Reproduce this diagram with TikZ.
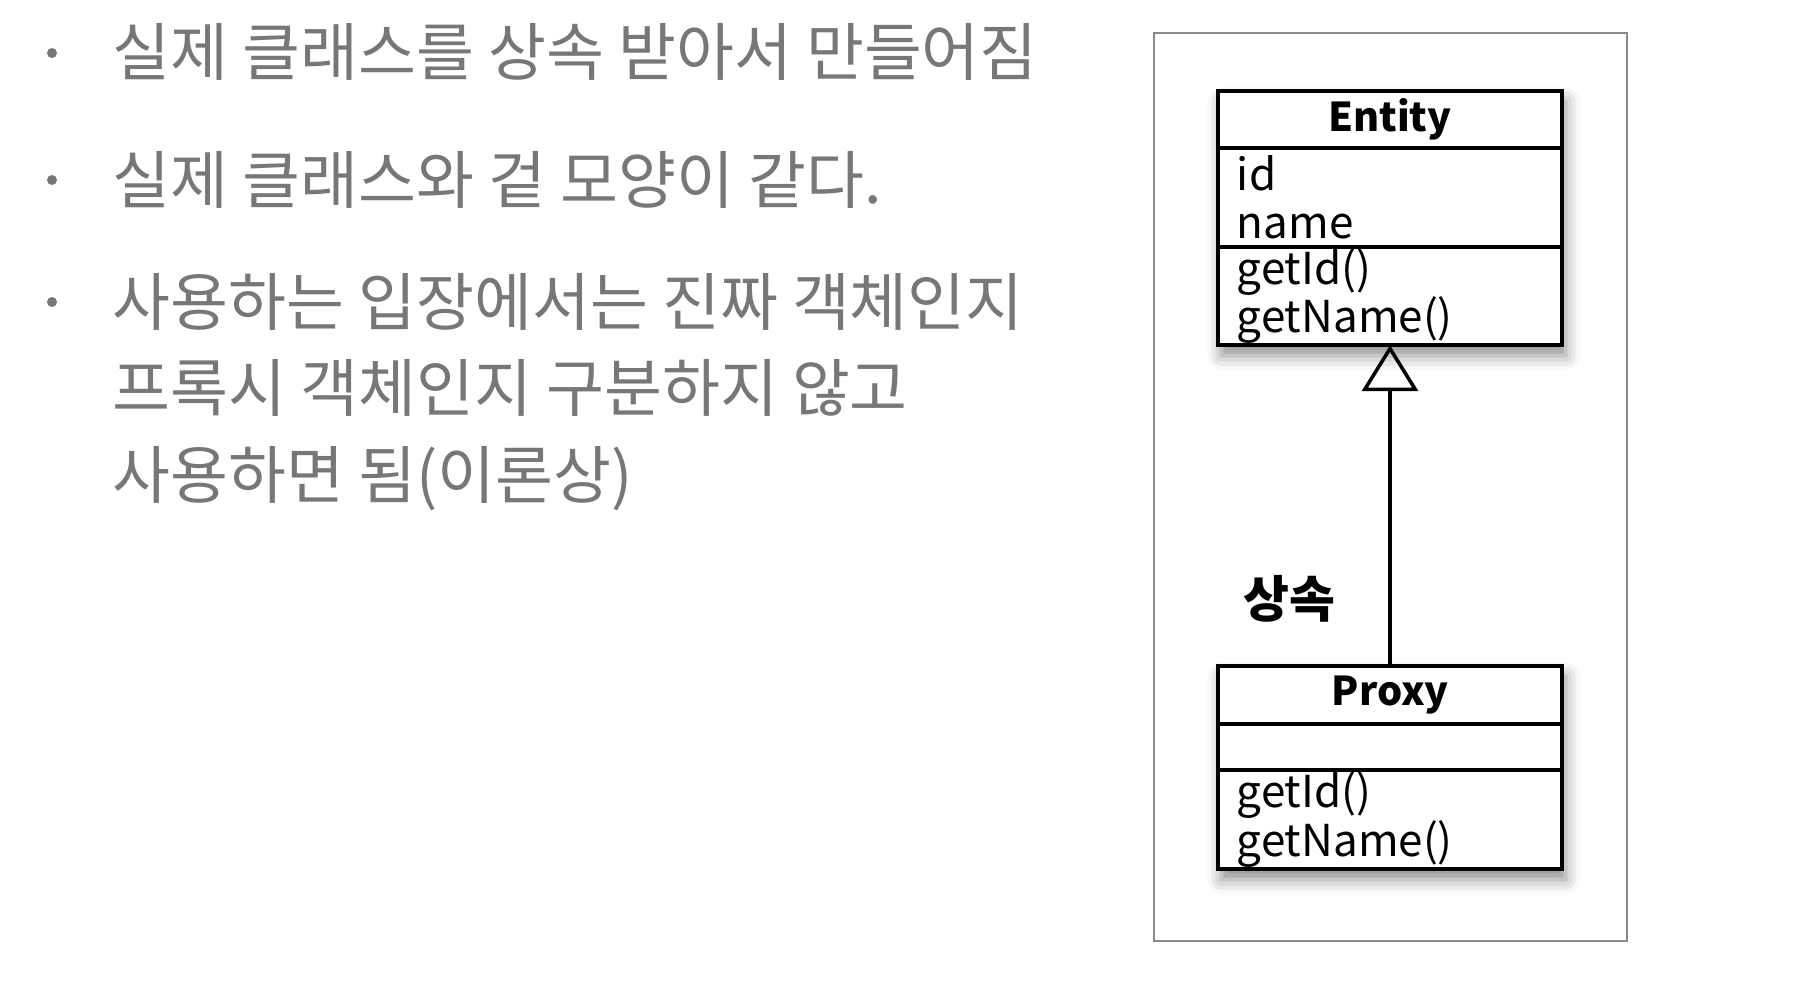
\documentclass[tikz,border=0pt]{standalone}
\usepackage{fontspec}
\setmainfont{Noto Sans CJK KR}
\newfontfamily\krbody{Noto Sans CJK KR}
\definecolor{textgray}{HTML}{777777}
\definecolor{framegray}{HTML}{8A8A8A}
\usetikzlibrary{arrows.meta,positioning,fit,backgrounds,shadows.blur}
\tikzset{part/.style={draw=black,line width=1pt,fill=white,minimum width=3.44cm,text width=3.06cm,inner xsep=0.19cm,inner ysep=0pt,outer sep=0pt,align=left,font=\fontsize{12.5}{13.7}\selectfont},head/.style={part,align=center,font=\fontsize{11.3}{13.7}\selectfont\bfseries},inh/.style={-{Triangle[open,length=0.46cm,width=0.56cm]},line width=1pt},item/.style={anchor=base west,align=left,text=textgray,inner sep=0pt,font=\krbody\fontsize{17.9}{24.5}\selectfont}}

\begin{document}
\begin{tikzpicture}[x=0.01cm,y=-0.01cm,
dot/.style={circle,fill=textgray,inner sep=0pt,minimum size=0.1cm},
frm/.style={draw=framegray,line width=0.6pt,minimum width=4.73cm,minimum height=9.08cm,inner sep=0pt},
shd/.style={fill=white,inner sep=0pt,blur shadow={shadow xshift=1pt,shadow yshift=-3pt,shadow blur radius=4pt,shadow opacity=45}}]
\useasboundingbox (0,0) rectangle (1800,988);
\node[dot] (b1) at (52,53) {};
\node[item] (t1) at (112,76) {실제 클래스를 상속 받아서 만들어짐};
\node[dot] (b2) at (52,180) {};
\node[item] (t2) at (112,203) {실제 클래스와 겉 모양이 같다.};
\node[dot] (b3) at (52,302) {};
\node[item] (t3) at (112,498) {사용하는 입장에서는 진짜 객체인지\\프록시 객체인지 구분하지 않고\\사용하면 됨(이론상)};
\node[frm] (frame) at (1390.5,487) {};
\node[head,minimum height=0.57cm,anchor=north] (eH) at (1390,91) {Entity};
\node[part,minimum height=0.99cm,below=0pt of eH] (eA) {id\\name};
\node[part,minimum height=0.98cm,below=0pt of eA] (eM) {getId()\\getName()};
\node[head,minimum height=0.58cm,anchor=north] (pH) at (1390,666) {Proxy};
\node[part,minimum height=0.46cm,below=0pt of pH] (pA) {};
\node[part,minimum height=0.99cm,below=0pt of pA] (pM) {getId()\\getName()};
\begin{scope}[on background layer]
\node[shd,fit=(eH)(eM)] (eS) {};
\node[shd,fit=(pH)(pM)] (pS) {};
\end{scope}
\draw[inh] (pH.north)--(eM.south);
\node[font=\fontsize{14.2}{16}\selectfont\bfseries] (lbl) at (1289,599) {상속};
\end{tikzpicture}
\end{document}
